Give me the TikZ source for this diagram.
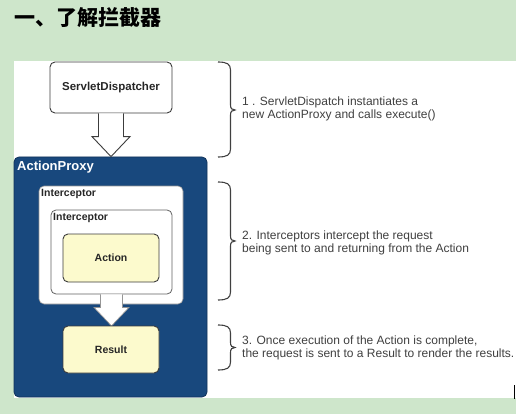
\documentclass[tikz,border=0pt]{standalone}
\usepackage{fontspec}
\setmainfont{Liberation Sans}
\newfontfamily\cjk{Noto Sans CJK SC}
\usetikzlibrary{calc}
\definecolor{bggreen}{RGB}{206,230,203}
\definecolor{apblue}{RGB}{24,72,125}
\definecolor{apedge}{RGB}{16,50,90}
\definecolor{boxyellow}{RGB}{252,250,205}
\definecolor{edge}{RGB}{60,60,60}
\definecolor{txtgray}{RGB}{64,64,64}
\definecolor{lightedge}{RGB}{150,150,150}
\newcommand\annbrace[3]{%
  \draw[bracestyle] (218,#1) .. controls (227,#1) and (230.5,{#1+2}) .. (230.5,{#1+8})
    -- (230.5,{#2-5}) .. controls (230.5,{#2-1.5}) and (232,#2) .. (235,#2)
    .. controls (232,#2) and (230.5,{#2+1.5}) .. (230.5,{#2+5})
    -- (230.5,{#3-8}) .. controls (230.5,{#3-2}) and (227,#3) .. (218,#3);}
\begin{document}
\begin{tikzpicture}[x=1pt,y=-1pt,
  box/.style={draw=edge, line width=0.9pt, rounded corners=5pt, inner sep=0pt},
  yellowbox/.style={box, fill=boxyellow, minimum width=96pt,
    font=\bfseries\fontsize{10.5}{12}\selectfont, text=black!85},
  ilabel/.style={anchor=west, inner sep=0pt, font=\bfseries\fontsize{10.5}{12}\selectfont, text=black!85},
  note/.style={anchor=west, inner sep=0pt, align=left, text=txtgray,
    font=\fontsize{12}{13.2}\selectfont},
  hollow/.style={draw=edge, fill=white, line width=0.9pt, line join=miter},
  hollowlight/.style={draw=lightedge, fill=white, line width=0.7pt, line join=miter},
  bracestyle/.style={draw=txtgray, line width=1.1pt}]
\fill[bggreen] (0,0) rectangle (516,414);
\useasboundingbox (0,0) rectangle (516,414);
\fill[white] (14,61) rectangle (516,398);
\draw[black, line width=1.5pt] (514.5,385) -- (514.5,399);
\node[anchor=west, inner sep=0pt, font=\cjk\bfseries\fontsize{21}{21}\selectfont] (title) at (14,17.5) {一、了解拦截器};
% ServletDispatcher
\node[box, fill=white, minimum width=122pt, minimum height=51pt,
  font=\bfseries\fontsize{11.5}{12}\selectfont, text=black!85] (sd) at (111,87.5) {\raisebox{2.5pt}{ServletDispatcher}};
% ActionProxy
\node[draw=apedge, fill=apblue, rounded corners=5pt, line width=0.8pt, inner sep=0pt,
  minimum width=193pt, minimum height=240pt] (ap) at (110.5,277) {};
\node[anchor=west, inner sep=0pt, text=white, font=\bfseries\fontsize{13}{14}\selectfont] (aplabel) at (17,167) {ActionProxy};
% Interceptors
\node[draw=lightedge, fill=white, rounded corners=5pt, line width=0.6pt, inner sep=0pt,
  minimum width=144pt, minimum height=118pt] (outer) at (111,245) {};
\node[ilabel] (outerlabel) at (41,194) {Interceptor};
\node[draw=edge!80, fill=white, rounded corners=5pt, line width=0.8pt, inner sep=0pt,
  minimum width=121pt, minimum height=84pt] (inner) at (111.5,252) {};
\node[ilabel] (innerlabel) at (53,218) {Interceptor};
\node[yellowbox, minimum height=48pt] (act) at (111,258) {Action};
% arrow interceptor -> result
\draw[hollowlight] ($(inner.south)+(-11,0)$) -- ($(inner.south)+(-11,13)$) -- ($(inner.south)+(-17.5,13)$)
  -- ($(inner.south)+(0,31.5)$) -- ($(inner.south)+(17.5,13)$) -- ($(inner.south)+(11,13)$) -- ($(inner.south)+(11,0)$);
\node[yellowbox, minimum height=47pt] (res) at (111,349.5) {Result};
% arrow servlet -> actionproxy
\coordinate (t1) at (ap.north -| sd.south);
\draw[hollow] ($(sd.south)+(-12.5,0)$) -- ($(t1)+(-12.5,-20)$) -- ($(t1)+(-19,-20)$)
  -- (t1) -- ($(t1)+(19,-20)$) -- ($(t1)+(12.5,-20)$) -- ($(sd.south)+(12.5,0)$);
% braces and notes
\annbrace{62}{110}{157}
\annbrace{182}{241}{300}
\annbrace{325}{347.5}{370}
\node[note] (n1) at (242,109) {1 . ServletDispatch instantiates a\\new ActionProxy and calls execute()};
\node[note] (n2) at (242,242.5) {2. Interceptors intercept the request\\being sent to and returning from the Action};
\node[note] (n3) at (242,347.5) {3. Once execution of the Action is complete,\\the request is sent to a Result to render the results.};
\end{tikzpicture}
\end{document}
